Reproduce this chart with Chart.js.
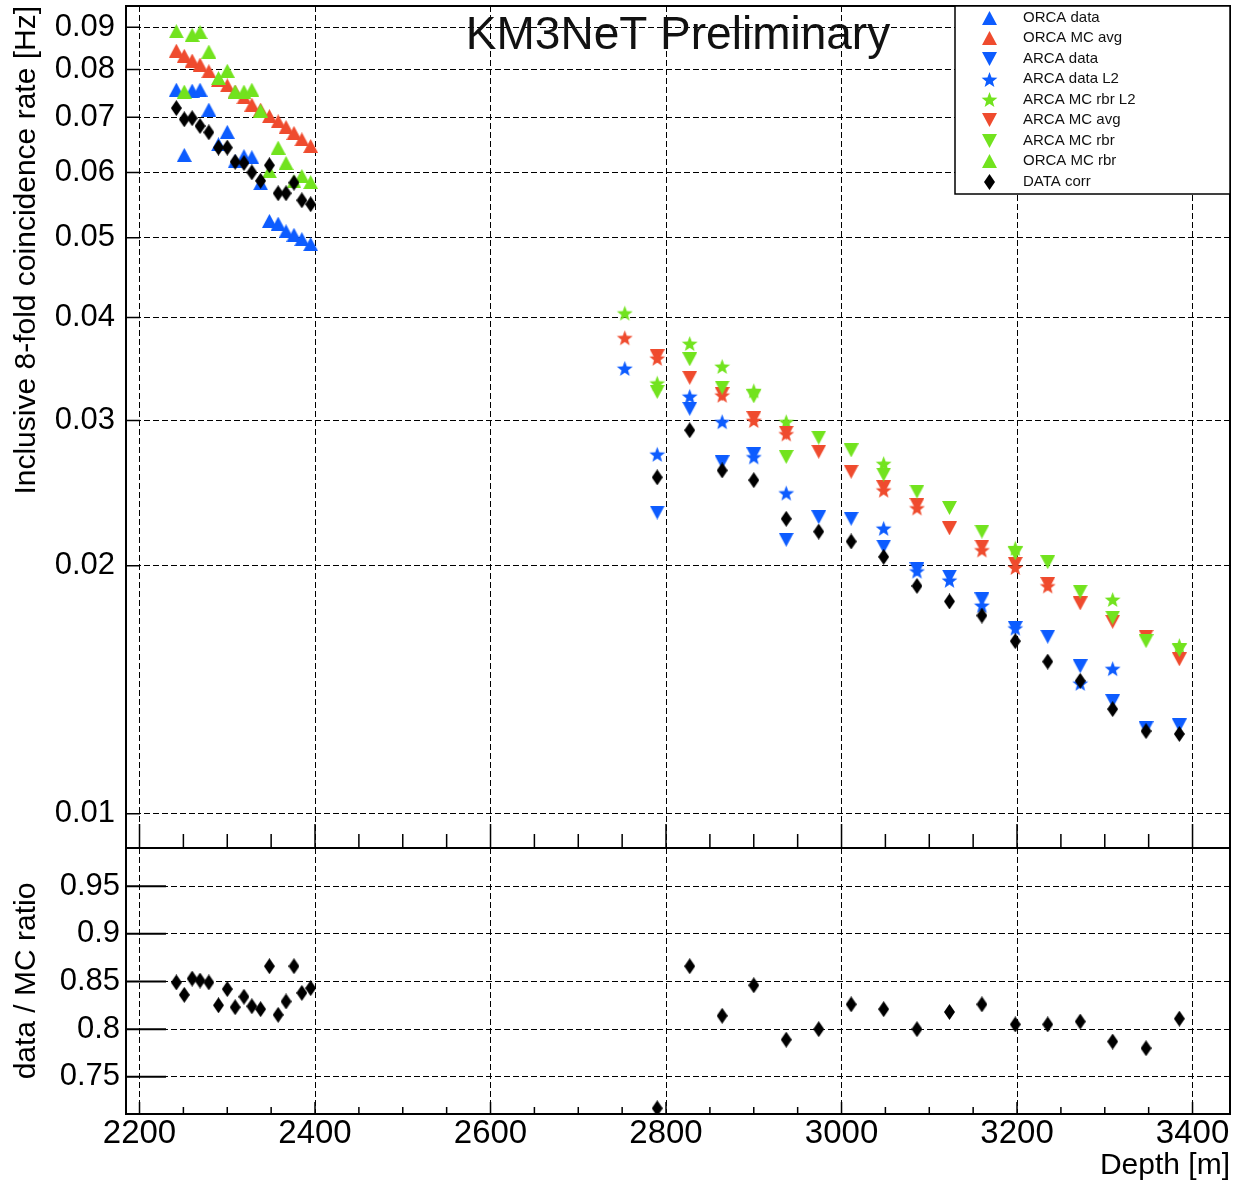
<!DOCTYPE html>
<html><head><meta charset="utf-8">
<script src="https://cdn.jsdelivr.net/npm/chart.js@4.4.1/dist/chart.umd.min.js"></script>
<style>
html,body{margin:0;padding:0;background:#fff;}
#wrap{position:relative;width:1234px;height:1184px;overflow:hidden;background:#fff}
#c1{position:absolute;left:0;top:0;width:1234px;height:852px}
#c2{position:absolute;left:0;top:846px;width:1234px;height:338px}
</style></head><body>
<div id="wrap"><canvas id="c1" width="1234" height="852"></canvas><canvas id="c2" width="1234" height="338"></canvas></div>
<script>
// ---------------- data ----------------
const xTickValues = [2200, 2400, 2600, 2800, 3000, 3200, 3400];
const topYTicks = [0.01, 0.02, 0.03, 0.04, 0.05, 0.06, 0.07, 0.08, 0.09];
const ratioYTicks = [0.75, 0.8, 0.85, 0.9, 0.95];

const orcaDepth = [2242, 2251, 2260, 2269, 2279, 2290, 2300, 2309, 2319, 2328, 2338, 2348, 2358, 2367, 2376, 2385, 2395];
const orcaData   = [0.0756, 0.0630, 0.0754, 0.0756, 0.0715, 0.0649, 0.0672, 0.0619, 0.0628, 0.0626, 0.0582, 0.0524, 0.0520, 0.0509, 0.0504, 0.0498, 0.0491];
const orcaMCavg  = [0.0843, 0.0831, 0.0820, 0.0811, 0.0796, 0.0777, 0.0765, 0.0752, 0.0740, 0.0725, 0.0715, 0.0702, 0.0692, 0.0681, 0.0670, 0.0658, 0.0646];
const orcaMCrbr  = [0.0890, 0.0752, 0.0881, 0.0888, 0.0841, 0.0781, 0.0797, 0.0752, 0.0752, 0.0756, 0.0713, 0.0602, 0.0643, 0.0616, 0.0585, 0.0594, 0.0584];
const orcaCorr   = [0.0718, 0.0696, 0.0698, 0.0683, 0.0671, 0.0643, 0.0643, 0.0618, 0.0616, 0.0600, 0.0586, 0.0612, 0.0566, 0.0566, 0.0583, 0.0555, 0.0549];
const orcaRatio  = [0.849, 0.836, 0.853, 0.851, 0.849, 0.825, 0.842, 0.823, 0.834, 0.824, 0.821, 0.866, 0.815, 0.829, 0.866, 0.838, 0.843];

const arcaDepth = [2753, 2790, 2827, 2864, 2900, 2937, 2974, 3011, 3048, 3086, 3123, 3160, 3198, 3235, 3272, 3309, 3347, 3385];
const arcaData    = [null, 0.0232, 0.0310, 0.0267, 0.0273, 0.0215, 0.0229, 0.0228, 0.0211, 0.0198, 0.0194, 0.0182, 0.0168, 0.0164, 0.0151, 0.0137, 0.0127, 0.0128];
const arcaDataL2  = [0.0347, 0.0273, 0.0321, 0.0299, 0.0271, 0.0245, null, null, 0.0222, 0.0197, 0.0192, 0.0179, 0.0168, null, 0.0144, 0.0150, null, null];
const arcaMCrbrL2 = [0.0405, 0.0333, 0.0372, 0.0349, 0.0326, 0.0299, null, null, 0.0266, null, null, null, 0.0210, null, null, 0.0182, null, 0.0160];
const arcaMCavg   = [null, 0.0359, 0.0338, 0.0323, 0.0302, 0.0290, 0.0275, 0.0260, 0.0249, 0.0237, 0.0222, 0.0211, 0.0201, 0.0190, 0.0180, 0.0171, 0.0164, 0.0154];
const arcaMCavgL2 = [0.0378, 0.0357, null, 0.0322, 0.0300, 0.0289, null, null, 0.0247, 0.0235, null, 0.0209, 0.0199, 0.0189, null, null, null, null];
const arcaMCrbr   = [null, 0.0325, 0.0356, 0.0329, 0.0321, 0.0271, 0.0286, 0.0276, 0.0258, 0.0246, 0.0235, 0.0220, 0.0207, 0.0202, 0.0186, 0.0173, 0.0162, 0.0158];
const arcaCorr    = [null, 0.0256, 0.0292, 0.0261, 0.0254, 0.0228, 0.0220, 0.0214, 0.0205, 0.0189, 0.0181, 0.0174, 0.0162, 0.0153, 0.0145, 0.0134, 0.0126, 0.0125];
const arcaRatio   = [null, 0.717, 0.866, 0.814, 0.846, 0.789, 0.800, 0.826, 0.821, 0.800, 0.818, 0.826, 0.805, 0.805, 0.808, 0.787, 0.780, 0.811];

// ---------------- styling ----------------
const FONT = "'Liberation Sans', Arial, Helvetica, sans-serif";
Chart.defaults.font.family = FONT;
Chart.defaults.color = '#000';
const X_MIN = 2184.6, X_MAX = 3442.7;
const BLUE = '#0d5cff', RED = '#ef4b2e', GREEN = '#72e31e', BLACK = '#000';

function mk(shape, color) {
  const c = document.createElement('canvas');
  let w, h;
  if (shape === 'up' || shape === 'down') { w = 15; h = 14; }
  else if (shape === 'star') { w = 17; h = 17; }
  else { w = 11; h = 16; }
  c.width = w; c.height = h;
  const g = c.getContext('2d');
  g.fillStyle = color; g.beginPath();
  if (shape === 'up') { g.moveTo(w / 2, 0); g.lineTo(w, h); g.lineTo(0, h); }
  else if (shape === 'down') { g.moveTo(0, 0); g.lineTo(w, 0); g.lineTo(w / 2, h); }
  else if (shape === 'star') {
    const R = 8.3, r = 3.5;
    for (let k = 0; k < 10; k++) {
      const a = -Math.PI / 2 + k * Math.PI / 5, rr = k % 2 ? r : R;
      const px = w / 2 + rr * Math.cos(a), py = h / 2 + 0.8 + rr * Math.sin(a);
      if (k) g.lineTo(px, py); else g.moveTo(px, py);
    }
  } else { g.moveTo(w / 2, 0); g.lineTo(w, h / 2); g.lineTo(w / 2, h); g.lineTo(0, h / 2); }
  g.closePath(); g.fill();
  return c;
}
function pts(xs, ys) { return xs.map((x, i) => ({ x: x, y: ys[i] })).filter(p => p.y != null); }

const series = [
  { label: 'ORCA data', xs: orcaDepth, ys: orcaData, m: mk('up', BLUE) },
  { label: 'ORCA MC avg', xs: orcaDepth, ys: orcaMCavg, m: mk('up', RED) },
  { label: 'ARCA data', xs: arcaDepth, ys: arcaData, m: mk('down', BLUE) },
  { label: 'ARCA data L2', xs: arcaDepth, ys: arcaDataL2, m: mk('star', BLUE) },
  { label: 'ARCA MC rbr L2', xs: arcaDepth, ys: arcaMCrbrL2, m: mk('star', GREEN) },
  { label: 'ARCA MC avg', xs: arcaDepth, ys: arcaMCavg, m: mk('down', RED) },
  { label: 'ARCA MC avg L2', xs: arcaDepth, ys: arcaMCavgL2, m: mk('star', RED), hide: true },
  { label: 'ARCA MC rbr', xs: arcaDepth, ys: arcaMCrbr, m: mk('down', GREEN) },
  { label: 'ORCA MC rbr', xs: orcaDepth, ys: orcaMCrbr, m: mk('up', GREEN) },
  { label: 'DATA corr', xs: orcaDepth.concat(arcaDepth), ys: orcaCorr.concat(arcaCorr), m: mk('diamond', BLACK) }
];
const topSets = series.map((s, i) => ({
  label: s.label, data: pts(s.xs, s.ys), showLine: false,
  pointStyle: s.m, pointRadius: 8, pointHoverRadius: 8,
  backgroundColor: 'transparent', borderColor: 'transparent',
  order: series.length - i, hideInLegend: !!s.hide
}));

const panelDeco = {
  id: 'panelDeco',
  afterDraw(chart, args, o) {
    const ctx = chart.ctx, a = chart.chartArea, xs = chart.scales.x, ys = chart.scales.y;
    ctx.save();
    ctx.strokeStyle = '#000';
    ctx.lineWidth = o.yTickWidth;
    ctx.beginPath();
    o.yTicks.forEach(v => { const p = ys.getPixelForValue(v); ctx.moveTo(a.left, p); ctx.lineTo(a.left + o.yTickLen, p); });
    ctx.stroke();
    ctx.lineWidth = 1.5;
    ctx.beginPath();
    for (let v = 2200; v <= X_MAX; v += 50) {
      const len = (v - 2200) % 200 === 0 ? o.xMajorLen : o.xMinorLen;
      const p = xs.getPixelForValue(v);
      ctx.moveTo(p, a.bottom); ctx.lineTo(p, a.bottom - len);
    }
    ctx.stroke();
    ctx.lineWidth = 2;
    ctx.strokeRect(a.left, a.top, a.right - a.left, a.bottom - a.top);
    ctx.restore();
  }
};

const topOverlay = {
  id: 'topOverlay',
  afterDraw(chart) {
    const ctx = chart.ctx;
    ctx.save();
    ctx.font = '46px ' + FONT; ctx.fillStyle = '#111'; ctx.textAlign = 'center'; ctx.textBaseline = 'alphabetic';
    ctx.fillText('KM3NeT Preliminary', 678, 49);
    const L = { x: 955, y: 6, w: 275, h: 188 };
    ctx.fillStyle = '#fff'; ctx.fillRect(L.x, L.y, L.w, L.h);
    ctx.lineWidth = 1.5; ctx.strokeStyle = '#000'; ctx.strokeRect(L.x, L.y, L.w, L.h);
    ctx.font = '15px ' + FONT; ctx.textAlign = 'left'; ctx.textBaseline = 'middle'; ctx.fillStyle = '#111';
    const items = chart.data.datasets.filter(d => !d.hideInLegend);
    items.forEach((d, i) => {
      const yy = 17.5 + i * 20.5, m = d.pointStyle;
      ctx.drawImage(m, Math.round(989 - m.width / 2), Math.round(yy - m.height / 2));
      ctx.fillText(d.label, 1023, yy);
    });
    ctx.restore();
  }
};

const gridOpts = { color: '#000', lineWidth: 1, drawTicks: false };
const borderOpts = { display: false, dash: [6, 3] };

new Chart(document.getElementById('c1'), {
  type: 'scatter',
  data: { datasets: topSets },
  options: {
    responsive: false, animation: false, devicePixelRatio: 1,
    layout: { autoPadding: false, padding: { left: 0, right: 4, top: 6, bottom: 0 } },
    plugins: {
      legend: { display: false }, tooltip: { enabled: false },
      panelDeco: { yTicks: topYTicks, yTickLen: 14, yTickWidth: 1.5, xMajorLen: 24, xMinorLen: 14 }
    },
    scales: {
      x: {
        type: 'linear', min: X_MIN, max: X_MAX,
        afterBuildTicks: s => { s.ticks = xTickValues.map(v => ({ value: v })); },
        ticks: { display: false }, grid: gridOpts, border: borderOpts,
        afterFit: s => { s.height = 4; s.paddingLeft = 0; s.paddingRight = 0; }
      },
      y: {
        type: 'logarithmic', min: 0.00909, max: 0.0955,
        afterBuildTicks: s => { s.ticks = topYTicks.map(v => ({ value: v })); },
        ticks: { autoSkip: false, padding: 11, font: { size: 31 }, color: '#000', callback: v => String(v) },
        grid: gridOpts, border: borderOpts,
        title: { display: true, text: 'Inclusive 8-fold coincidence rate [Hz]', align: 'end', color: '#000', font: { size: 30 }, padding: { top: 9, bottom: 0 } },
        afterFit: s => { s.width = 126; s.paddingTop = 0; s.paddingBottom = 0; }
      }
    }
  },
  plugins: [panelDeco, topOverlay]
});

new Chart(document.getElementById('c2'), {
  type: 'scatter',
  data: { datasets: [{
    label: 'DATA corr', data: pts(orcaDepth.concat(arcaDepth), orcaRatio.concat(arcaRatio)), showLine: false,
    pointStyle: mk('diamond', BLACK), pointRadius: 8, pointHoverRadius: 8,
    backgroundColor: 'transparent', borderColor: 'transparent'
  }] },
  options: {
    responsive: false, animation: false, devicePixelRatio: 1,
    layout: { autoPadding: false, padding: { left: 0, right: 4, top: 2, bottom: 0 } },
    plugins: {
      legend: { display: false }, tooltip: { enabled: false },
      panelDeco: { yTicks: ratioYTicks, yTickLen: 40, yTickWidth: 2, xMajorLen: 12, xMinorLen: 7 }
    },
    scales: {
      x: {
        type: 'linear', min: X_MIN, max: X_MAX,
        afterBuildTicks: s => { s.ticks = xTickValues.map(v => ({ value: v })); },
        ticks: { autoSkip: false, maxRotation: 0, padding: 0, font: { size: 33 }, color: '#000', callback: v => String(v) },
        grid: gridOpts, border: borderOpts,
        title: { display: true, text: 'Depth [m]', align: 'end', color: '#000', font: { size: 30 }, padding: { top: 0, bottom: 0 } },
        afterFit: s => { s.height = 70; s.paddingLeft = 0; s.paddingRight = 0; }
      },
      y: {
        type: 'linear', min: 0.711, max: 0.99,
        afterBuildTicks: s => { s.ticks = ratioYTicks.map(v => ({ value: v })); },
        ticks: { autoSkip: false, padding: 6, font: { size: 31 }, color: '#000', callback: v => String(v) },
        grid: gridOpts, border: borderOpts,
        title: { display: true, text: 'data / MC ratio', align: 'center', color: '#000', font: { size: 30 }, padding: { top: 9, bottom: 0 } },
        afterFit: s => { s.width = 126; s.paddingTop = 0; s.paddingBottom = 0; }
      }
    }
  },
  plugins: [panelDeco]
});
</script>
</body></html>
